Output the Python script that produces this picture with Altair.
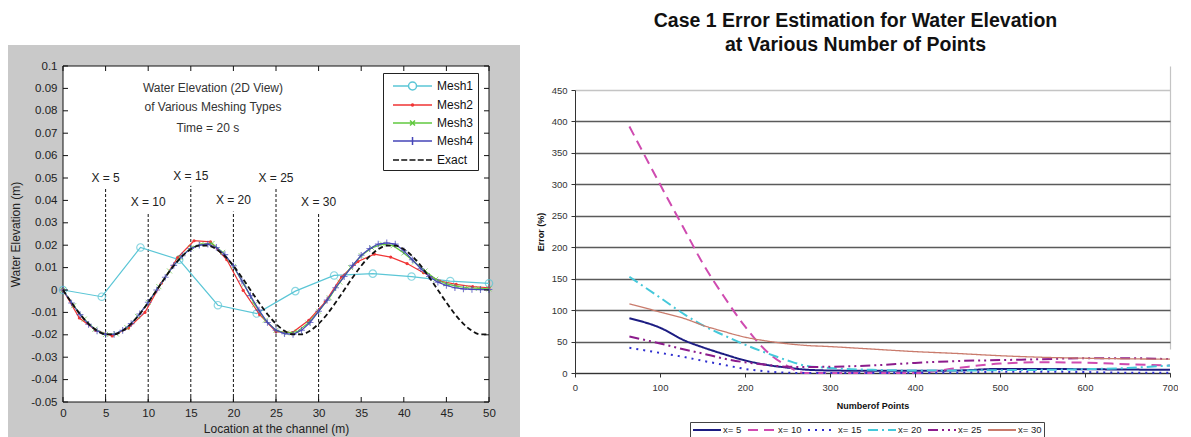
import altair as alt
import pandas as pd

FONT = "Liberation Sans"

# ---------------- left panel data (water elevation profile) ----------------
exact_x = list(range(0, 51))
exact_y = [0, -0.0056, -0.0108, -0.0151, -0.0182, -0.0198, -0.0198, -0.0182, -0.0151, -0.0108, -0.0056,
           0, 0.0056, 0.0108, 0.0151, 0.0182, 0.0198, 0.0198, 0.0182, 0.0151, 0.0108, 0.0056,
           0, -0.0056, -0.0108, -0.0151, -0.0182, -0.0198, -0.0198, -0.0182, -0.0151, -0.0108, -0.0056,
           0, 0.0056, 0.0108, 0.0151, 0.0182, 0.0198, 0.0198, 0.0182, 0.0151, 0.0108, 0.0056,
           0, -0.0056, -0.0108, -0.0151, -0.0182, -0.0198, -0.0198]

mesh1_x = [0, 4.55, 9.09, 13.64, 18.18, 22.73, 27.27, 31.82, 36.36, 40.91, 45.45, 50]
mesh1_y = [0, -0.003, 0.019, 0.0135, -0.0068, -0.0105, -0.0005, 0.0065, 0.0073, 0.006, 0.004, 0.003]

mesh2_x = [0, 1.92, 3.85, 5.77, 7.69, 9.62, 11.54, 13.46, 15.38, 17.31, 19.23, 21.15, 23.08, 25.0,
           26.92, 28.85, 30.77, 32.69, 34.62, 36.54, 38.46, 40.38, 42.31, 44.23, 46.15, 48.08, 50]
mesh2_y = [0, -0.0125, -0.018, -0.0205, -0.017, -0.010, 0.003, 0.0145, 0.022, 0.0215, 0.0135, -0.0002,
           -0.011, -0.0186, -0.019, -0.0135, -0.0054, 0.0058, 0.0127, 0.016, 0.0147, 0.0118, 0.0077,
           0.004, 0.0025, 0.0015, 0.001]

mesh3_x = [0, 1.25, 2.5, 3.75, 5, 6.25, 7.5, 8.75, 10, 11.25, 12.5, 13.75, 15, 16.25, 17.5, 18.75, 20,
           21.25, 22.5, 23.75, 25, 26.25, 27.5, 28.75, 30, 31.25, 32.5, 33.75, 35, 36.25, 37.5, 38.75,
           40, 41.25, 42.5, 43.75, 45, 46.25, 47.5, 48.75, 50]
mesh3_y = [0, -0.007, -0.013, -0.0175, -0.0198, -0.0196, -0.0168, -0.0118, -0.0055, 0.0015, 0.0085,
           0.0145, 0.0188, 0.0205, 0.0208, 0.0168, 0.0105, 0.0025, -0.0065, -0.0135, -0.018, -0.0192,
           -0.0186, -0.0148, -0.0095, -0.0035, 0.0035, 0.01, 0.0153, 0.0188, 0.0205, 0.0198, 0.0165,
           0.0125, 0.0085, 0.0048, 0.0027, 0.0016, 0.001, 0.0007, 0.0005]

mesh4_x = list(range(0, 51))
mesh4_y = [0, -0.0058, -0.011, -0.0153, -0.0183, -0.0198, -0.0198, -0.018, -0.015, -0.0107, -0.0055,
           0.0, 0.0057, 0.011, 0.0153, 0.0185, 0.02, 0.0205, 0.019, 0.0158, 0.0108, 0.004,
           -0.0025, -0.009, -0.0145, -0.018, -0.0195, -0.0198, -0.018, -0.0145, -0.0095, -0.0045, 0.001,
           0.006, 0.011, 0.0155, 0.0185, 0.0205, 0.021, 0.0205, 0.0175, 0.0135, 0.0095,
           0.006, 0.0035, 0.002, 0.001, 0.0005, 0.0003, 0.0002, 0.0002]

guide_x = [5, 10, 15, 20, 25, 30]
guide_top = [0.0455, 0.0345, 0.0465, 0.035, 0.0455, 0.0342]
guide_label_y = [0.0500, 0.0394, 0.0508, 0.0400, 0.0500, 0.0394]
guide_labels = ["X = 5", "X = 10", "X = 15", "X = 20", "X = 25", "X = 30"]

note_text = ["Water Elevation (2D View)", "of Various Meshing Types", "Time = 20  s"]
note_x = [17.6, 17.6, 17.0]
note_y = [0.0903, 0.0818, 0.0722]

left_x_ticks = [0, 5, 10, 15, 20, 25, 30, 35, 40, 45, 50]
left_y_ticks = [-0.05, -0.04, -0.03, -0.02, -0.01, 0, 0.01, 0.02, 0.03, 0.04, 0.05, 0.06, 0.07, 0.08, 0.09, 0.1]

legend_names = ["Mesh1", "Mesh2", "Mesh3", "Mesh4", "Exact"]
legend_colors = ["#5bc6d6", "#f03535", "#62c940", "#4646b8", "#111111"]

# ---------------- right panel data (error vs number of points) ----------------
points_n = [64, 100, 130, 150, 175, 200, 225, 250, 270, 300, 350, 400, 450, 500, 550, 600, 650, 700]
err_x5 = [87, 72, 51, 41, 30, 20, 13, 8.5, 5.5, 4, 3.5, 3.5, 4, 6.5, 6.5, 6, 5.5, 5]
err_x10 = [392, 300, 225, 175, 122, 74, 35, 11, 0, 0, 0, 0, 8, 15, 17, 16.5, 14, 12]
err_x15 = [40, 32, 25, 19.5, 13, 6.5, 2.5, 0.5, 0, 0, 0, 0, 0.5, 2, 2, 1.5, 0.5, 0.5]
err_x20 = [153, 120, 92, 76, 60, 45, 32, 20, 12, 8, 5, 4, 4, 4.5, 5, 6, 8, 12]
err_x25 = [58, 47, 37, 31, 23, 17, 13, 10, 9.5, 10, 12, 16, 19, 20.5, 22, 23.5, 23.5, 22]
err_x30 = [110, 97, 86, 76, 66, 57, 51, 46.5, 44, 42, 38, 34, 31, 27.5, 25, 23.5, 22.5, 22]

series_names = ["x= 5", "x= 10", "x= 15", "x= 20", "x= 25", "x= 30"]
series_colors = ["#1c1c82", "#cf4bb0", "#2e2ecf", "#45c8da", "#8c1c8c", "#c97b6c"]
series_dash = [[1, 0], [10, 6], [2, 5], [10, 4, 2, 4], [10, 4, 2, 4, 2, 4], [1, 0]]
right_x_ticks = [0, 100, 200, 300, 400, 500, 600, 700]
right_y_ticks = [0, 50, 100, 150, 200, 250, 300, 350, 400, 450]

# ---------------- layout ----------------
LW, LH = 426, 336
RW, RH, RTOP = 595, 307, 24

# ================= LEFT CHART =================
xs = alt.Scale(domain=[0, 50], nice=False, zero=False)
ys = alt.Scale(domain=[-0.05, 0.1], nice=False, zero=False)
x_axis = alt.Axis(values=left_x_ticks, title="Location at the channel (m)", ticks=False, domain=False,
                  grid=False, labelFontSize=11.5, labelPadding=5, titleFontSize=12,
                  titleFontWeight="normal", titlePadding=5, labelColor="#222", titleColor="#222",
                  zindex=1, labelFlush=False, labelOverlap=False)
y_axis = alt.Axis(values=left_y_ticks, title="Water Elevation (m)", ticks=False, domain=False,
                  grid=False, labelFontSize=11.5, labelPadding=6, titleFontSize=12,
                  titleFontWeight="normal", titlePadding=8, labelColor="#222", titleColor="#222",
                  labelExpr="'' + round(datum.value*100)/100", zindex=1, labelOverlap=False,
                  labelFlush=False)
X = alt.X("x:Q", scale=xs, axis=x_axis)
Y = alt.Y("y:Q", scale=ys, axis=y_axis)

one = pd.DataFrame({"a": [0]})
grey_bg = alt.Chart(one).mark_rect(fill="#c9c9c9").encode(
    x=alt.value(-55), x2=alt.value(457), y=alt.value(-21), y2=alt.value(372))
white_bg = alt.Chart(one).mark_rect(fill="white", stroke="#111", strokeWidth=1).encode(
    x=alt.value(0), x2=alt.value(LW), y=alt.value(0), y2=alt.value(LH))

guide_df = pd.DataFrame({"x": guide_x, "y": [-0.05] * len(guide_x), "y2": guide_top,
                         "ly": guide_label_y, "t": guide_labels})
guides = alt.Chart(guide_df).mark_rule(color="#111", strokeDash=[3, 2], strokeWidth=1).encode(
    x=X, y=Y, y2="y2:Q")
guide_txt = alt.Chart(guide_df).mark_text(fontSize=12, color="#222", font=FONT).encode(
    x=X, y=alt.Y("ly:Q", scale=ys, axis=y_axis), text="t:N")

note_df = pd.DataFrame({"x": note_x, "y": note_y, "t": note_text})
notes = alt.Chart(note_df).mark_text(fontSize=12, color="#333", font=FONT).encode(x=X, y=Y, text="t:N")

def df(xv, yv):
    return pd.DataFrame({"x": xv, "y": yv})

m1 = df(mesh1_x, mesh1_y)
m2 = df(mesh2_x, mesh2_y)
m3 = df(mesh3_x, mesh3_y)
m4 = df(mesh4_x, mesh4_y)
ex = df(exact_x, exact_y)

c1, c2, c3, c4, c5 = legend_colors
mesh1_line = alt.Chart(m1).mark_line(color=c1, strokeWidth=1.2).encode(x=X, y=Y)
mesh1_pts = alt.Chart(m1).mark_point(shape="circle", size=55, filled=False, color=c1, strokeWidth=1.2).encode(x=X, y=Y)
mesh2_line = alt.Chart(m2).mark_line(color=c2, strokeWidth=1.2).encode(x=X, y=Y)
mesh2_pts = alt.Chart(m2).mark_circle(size=10, color=c2, opacity=1).encode(x=X, y=Y)
mesh3_line = alt.Chart(m3).mark_line(color=c3, strokeWidth=1.2).encode(x=X, y=Y)
mesh3_pts = alt.Chart(m3).mark_point(shape="M-1,-1L1,1M-1,1L1,-1", size=25, filled=False, color=c3,
                                     strokeWidth=1).encode(x=X, y=Y)
mesh4_line = alt.Chart(m4).mark_line(color=c4, strokeWidth=1.2).encode(x=X, y=Y)
mesh4_pts = alt.Chart(m4).mark_point(shape="M0,-1L0,1M-1,0L1,0", size=45, filled=False, color=c4,
                                     strokeWidth=1.1).encode(x=X, y=Y)
exact_line = alt.Chart(ex).mark_line(color=c5, strokeWidth=1.8, strokeDash=[5, 3],
                                     interpolate="monotone").encode(x=X, y=Y)

xt = pd.DataFrame({"x": left_x_ticks})
yt = pd.DataFrame({"y": left_y_ticks})
tick_b = alt.Chart(xt).mark_rule(color="#111").encode(x=X, y=alt.value(LH), y2=alt.value(LH - 5))
tick_t = alt.Chart(xt).mark_rule(color="#111").encode(x=X, y=alt.value(0), y2=alt.value(5))
tick_l = alt.Chart(yt).mark_rule(color="#111").encode(y=Y, x=alt.value(0), x2=alt.value(5))
tick_r = alt.Chart(yt).mark_rule(color="#111").encode(y=Y, x=alt.value(LW), x2=alt.value(LW - 5))

# legend swatch paths (unit = 8 px, symbol spans -1 .. 3.875, marker at 1.44)
circ = "M1.94,0C1.94,0.28 1.72,0.5 1.44,0.5C1.16,0.5 0.94,0.28 0.94,0C0.94,-0.28 1.16,-0.5 1.44,-0.5C1.72,-0.5 1.94,-0.28 1.94,0Z"
dot = "M1.57,0C1.57,0.07 1.51,0.13 1.44,0.13C1.37,0.13 1.31,0.07 1.31,0C1.31,-0.07 1.37,-0.13 1.44,-0.13C1.51,-0.13 1.57,-0.07 1.57,0Z"
legend_paths = [
    "M-1,0L0.94,0M1.94,0L3.875,0" + circ,
    "M-1,0L3.875,0" + dot,
    "M-1,0L3.875,0M1.13,-0.31L1.75,0.31M1.13,0.31L1.75,-0.31",
    "M-1,0L3.875,0M1.44,-0.5L1.44,0.5",
    "M-1,0L-0.25,0M0.03,0L0.78,0M1.06,0L1.81,0M2.09,0L2.84,0M3.12,0L3.87,0",
]
leg_opts = dict(orient="none", legendX=320, legendY=7, title=None, fillColor="white",
                strokeColor="#222", padding=4, symbolSize=256, symbolStrokeWidth=1.5,
                symbolOffset=5, labelFontSize=12, labelOffset=27, rowPadding=3, labelColor="#111",
                labelFont=FONT, symbolOpacity=1)
leg_df = pd.DataFrame({"series": legend_names, "x": [-100] * 5, "y": [1] * 5})
legend_layer = alt.Chart(leg_df).mark_point(clip=True, filled=False, strokeWidth=1.5).encode(
    x=X, y=Y,
    color=alt.Color("series:N", scale=alt.Scale(domain=legend_names, range=legend_colors),
                    legend=alt.Legend(**leg_opts)),
    shape=alt.Shape("series:N", scale=alt.Scale(domain=legend_names, range=legend_paths),
                    legend=alt.Legend(**leg_opts)),
)

left = alt.layer(
    grey_bg, white_bg, guides, guide_txt, notes,
    mesh1_line, mesh1_pts, mesh2_line, mesh2_pts, mesh3_line, mesh3_pts,
    mesh4_line, mesh4_pts, exact_line,
    tick_b, tick_t, tick_l, tick_r, legend_layer,
).properties(width=LW, height=LH)

# ================= RIGHT CHART =================
rows = []
for name, vals in zip(series_names, [err_x5, err_x10, err_x15, err_x20, err_x25, err_x30]):
    for n, v in zip(points_n, vals):
        rows.append({"series": name, "n": n, "err": v})
rdf = pd.DataFrame(rows)

rx_axis = alt.Axis(values=right_x_ticks, title="Numberof Points", titleFontSize=9, titleFontWeight="bold",
                   titlePadding=10, labelFontSize=9.5, labelColor="#333", titleColor="#111",
                   tickSize=4, tickColor="#333", domainColor="#333", labelPadding=5,
                   grid=True, gridColor={"condition": {"test": "datum.value === 700", "value": "#c4c4c4"},
                                         "value": "transparent"},
                   gridWidth=1.2, labelFlush=False)
ry_axis = alt.Axis(values=right_y_ticks, title="Error (%)", titleFontSize=9, titleFontWeight="bold",
                   titlePadding=6, labelFontSize=9.5, labelColor="#333", titleColor="#111",
                   tickSize=4, tickColor="#333", domainColor="#333", labelPadding=4,
                   grid=True, gridColor={"condition": {"test": "datum.value === 450", "value": "#c4c4c4"},
                                         "value": "#5a5a5a"},
                   gridWidth=1.6)
RX = alt.X("n:Q", scale=alt.Scale(domain=[0, 700], nice=False, zero=False), axis=rx_axis)
RY = alt.Y("err:Q", scale=alt.Scale(domain=[0, 450], nice=False, range=[RH, RTOP]), axis=ry_axis)
r_leg = dict(orient="none", legendX=115, legendY=356, direction="horizontal",
             symbolType="stroke", symbolSize=784, symbolStrokeWidth=2, clipHeight=12,
             labelFontSize=9.5, labelOffset=1, columnPadding=5, padding=2,
             strokeColor="#444", fillColor="white", title=None,
             labelColor="#222", labelFont=FONT)
rcolor = alt.Color("series:N", scale=alt.Scale(domain=series_names, range=series_colors),
                   legend=alt.Legend(**r_leg))
rdash = alt.StrokeDash("series:N", scale=alt.Scale(domain=series_names, range=series_dash),
                       legend=alt.Legend(**r_leg))

r_main = alt.Chart(rdf).transform_filter("datum.series !== 'x= 30'").mark_line(
    interpolate="monotone", strokeWidth=2).encode(x=RX, y=RY, color=rcolor, strokeDash=rdash)
r_thin = alt.Chart(rdf).transform_filter("datum.series === 'x= 30'").mark_line(
    interpolate="monotone", strokeWidth=1.3).encode(x=RX, y=RY, color=rcolor, strokeDash=rdash)

right = alt.layer(r_main, r_thin).properties(
    width=RW, height=RH,
    title=alt.Title(["Case 1 Error Estimation for Water Elevation", "at Various Number of Points"],
                    fontSize=19.5, fontWeight="bold", font=FONT, lineHeight=24, anchor="middle",
                    dx=-17, offset=11, color="#111", frame="group"),
)

chart = alt.hconcat(left, right, spacing=86, bounds="flush").resolve_scale(
    x="independent", y="independent", color="independent", shape="independent",
    strokeDash="independent",
).properties(padding={"left": 0, "top": 2, "right": 0, "bottom": 0}).configure(
    font=FONT).configure_view(strokeWidth=0)

chart.save("out.html", embed_options={"renderer": "svg", "actions": False})
